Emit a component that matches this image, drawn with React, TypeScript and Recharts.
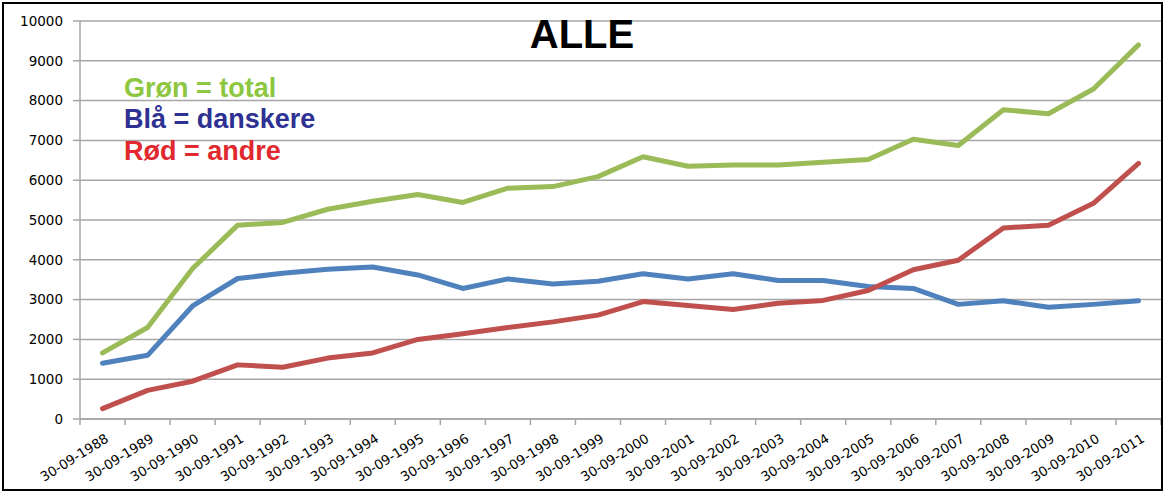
import React from "react";
import { LineChart, Line, XAxis, YAxis, CartesianGrid } from "recharts";

const categories = [
  "30-09-1988", "30-09-1989", "30-09-1990", "30-09-1991", "30-09-1992", "30-09-1993",
  "30-09-1994", "30-09-1995", "30-09-1996", "30-09-1997", "30-09-1998", "30-09-1999",
  "30-09-2000", "30-09-2001", "30-09-2002", "30-09-2003", "30-09-2004", "30-09-2005",
  "30-09-2006", "30-09-2007", "30-09-2008", "30-09-2009", "30-09-2010", "30-09-2011",
];

const total = [
  1660, 2300, 3780, 4870, 4940, 5270, 5470, 5640, 5440, 5800, 5840, 6090,
  6590, 6350, 6380, 6380, 6450, 6520, 7030, 6870, 7770, 7670, 8290, 9400,
];

const danskere = [
  1400, 1600, 2840, 3530, 3660, 3760, 3820, 3620, 3280, 3520, 3390, 3460,
  3650, 3520, 3650, 3480, 3480, 3330, 3280, 2880, 2970, 2810, 2880, 2970,
];

const andre = [
  260, 720, 950, 1360, 1300, 1530, 1660, 2000, 2140, 2300, 2440, 2610,
  2950, 2850, 2750, 2910, 2980, 3230, 3750, 3990, 4800, 4870, 5420, 6420,
];

const yTicks = [0, 1000, 2000, 3000, 4000, 5000, 6000, 7000, 8000, 9000, 10000];

const data = categories.map((c, i) => ({
  date: c,
  total: total[i],
  danskere: danskere[i],
  andre: andre[i],
}));

const WIDTH = 1167;
const HEIGHT = 493;
const MARGIN = { top: 21, right: 6, bottom: 14, left: 20 };
const Y_AXIS_WIDTH = 60;
const PLOT_WIDTH = WIDTH - MARGIN.left - MARGIN.right - Y_AXIS_WIDTH;
const HALF_BAND = PLOT_WIDTH / categories.length / 2;
const GRID = "#a6a6a6";

const XTick = (props: any) => {
  const { x, y, payload, index } = props;
  const last = index === categories.length - 1;
  return (
    <g transform={`translate(${x},${y})`}>
      <line x1={-HALF_BAND} x2={-HALF_BAND} y1={0} y2={6} stroke={GRID} strokeWidth={1.5} />
      {last && <line x1={HALF_BAND} x2={HALF_BAND} y1={0} y2={6} stroke={GRID} strokeWidth={1.5} />}
      <text
        x={0}
        y={0}
        transform="translate(7,22) rotate(-32)"
        textAnchor="end"
        fontSize={13.3}
        fontFamily="'DejaVu Sans', sans-serif"
        fill="#000"
      >
        {payload.value}
      </text>
    </g>
  );
};

export default function App() {
  return (
    <div style={{ position: "absolute", left: 0, top: 0, width: WIDTH, height: HEIGHT, background: "#fff" }}>
      <LineChart width={WIDTH} height={HEIGHT} data={data} margin={MARGIN}>
        <CartesianGrid vertical={false} stroke={GRID} strokeWidth={1.5} />
        <XAxis
          dataKey="date"
          interval={0}
          height={60}
          padding={{ left: HALF_BAND, right: HALF_BAND }}
          tickLine={false}
          tickSize={0}
          tickMargin={0}
          axisLine={{ stroke: GRID, strokeWidth: 1.5 }}
          tick={<XTick />}
        />
        <YAxis
          width={Y_AXIS_WIDTH}
          domain={[0, 10000]}
          ticks={yTicks}
          interval={0}
          tickSize={7}
          tickMargin={10}
          tickLine={{ stroke: GRID, strokeWidth: 1.5 }}
          axisLine={{ stroke: GRID, strokeWidth: 1.5 }}
          tick={{ fill: "#000", fontSize: 13.5, fontFamily: "'DejaVu Sans', sans-serif" }}
        />
        <Line dataKey="total" stroke="#9bbb59" strokeWidth={5} dot={false} isAnimationActive={false} strokeLinejoin="round" strokeLinecap="round" />
        <Line dataKey="danskere" stroke="#4f81bd" strokeWidth={5} dot={false} isAnimationActive={false} strokeLinejoin="round" strokeLinecap="round" />
        <Line dataKey="andre" stroke="#c0504d" strokeWidth={5} dot={false} isAnimationActive={false} strokeLinejoin="round" strokeLinecap="round" />
      </LineChart>
      <svg
        width={WIDTH}
        height={HEIGHT}
        style={{ position: "absolute", left: 0, top: 0, pointerEvents: "none" }}
      >
        <text x={582} y={48} textAnchor="middle" fontSize={40} fontWeight="bold" fontFamily="'Liberation Sans', Arial, sans-serif" fill="#000">
          ALLE
        </text>
        <text x={124} y={97} fontSize={27} fontWeight="bold" fontFamily="'Liberation Sans', Arial, sans-serif" fill="#8dc63f">
          Grøn = total
        </text>
        <text x={124} y={128} fontSize={27} fontWeight="bold" fontFamily="'Liberation Sans', Arial, sans-serif" fill="#2e3192">
          Blå = danskere
        </text>
        <text x={124} y={160} fontSize={27} fontWeight="bold" fontFamily="'Liberation Sans', Arial, sans-serif" fill="#e0282e">
          Rød = andre
        </text>
      </svg>
      <div
        style={{
          position: "absolute",
          left: 2,
          top: 2,
          width: 1161,
          height: 489,
          border: "2px solid #000",
          boxSizing: "border-box",
          pointerEvents: "none",
        }}
      />
    </div>
  );
}
